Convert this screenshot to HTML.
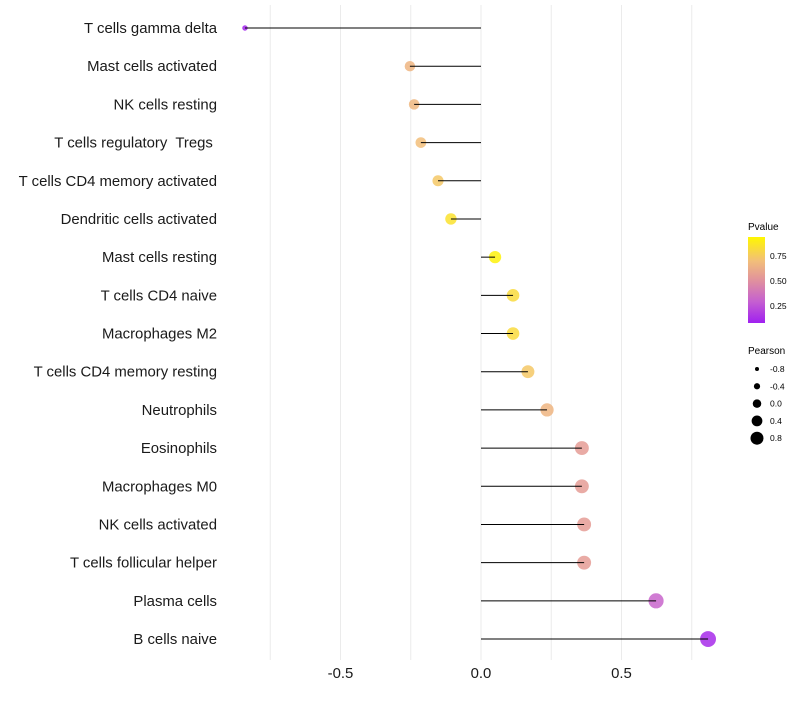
<!DOCTYPE html>
<html><head><meta charset="utf-8"><style>
body{margin:0;background:#fff;font-family:"Liberation Sans",sans-serif}
text{white-space:pre}
</style></head><body>
<svg id="chart" width="800" height="700" xmlns="http://www.w3.org/2000/svg">
<defs><linearGradient id="pg" x1="0" y1="1" x2="0" y2="0">
<stop offset="0" stop-color="#a020f0"/><stop offset="0.25" stop-color="#c560d0"/><stop offset="0.49" stop-color="#e0909e"/><stop offset="0.72" stop-color="#f2be7a"/><stop offset="1" stop-color="#fff700"/></linearGradient></defs>
<g id="grid"></g><g id="marks"></g><g id="ylabels"></g><g id="xlabels"></g>
<g>
<text x="748" y="230" font-size="10">Pvalue</text>
<rect x="748" y="237" width="17" height="86" fill="url(#pg)"/>
<text x="770" y="259" font-size="8.5">0.75</text>
<text x="770" y="284" font-size="8.5">0.50</text>
<text x="770" y="309" font-size="8.5">0.25</text>
</g>
<g id="sizeleg">
<text x="748" y="354" font-size="10">Pearson</text>
</g>
</svg>
<script>
const categories=["T cells gamma delta","Mast cells activated","NK cells resting","T cells regulatory  Tregs ","T cells CD4 memory activated","Dendritic cells activated","Mast cells resting","T cells CD4 naive","Macrophages M2","T cells CD4 memory resting","Neutrophils","Eosinophils","Macrophages M0","NK cells activated","T cells follicular helper","Plasma cells","B cells naive"];
const pearson=[-0.84,-0.253,-0.238,-0.214,-0.153,-0.107,0.05,0.114,0.114,0.167,0.235,0.359,0.359,0.367,0.367,0.623,0.808];
const pvalues=[0.1,0.66,0.67,0.7,0.74,0.85,0.92,0.82,0.82,0.74,0.66,0.55,0.55,0.55,0.55,0.32,0.12];
const xTicks=[-0.5,0,0.5];
const xTickLabels=["-0.5","0.0","0.5"];
const sizeLegend=[-0.8,-0.4,0.0,0.4,0.8];
const NS="http://www.w3.org/2000/svg";
const xs=v=>481+v*281;
const ys=i=>28+i*38.19;
const rs=v=>Math.sqrt(Math.max(1.6,36+34*v));
const rl=v=>2+((v+0.8)/1.6)*4.5;
const stops=[[0.08,[160,32,240]],[0.3,[197,96,208]],[0.5,[224,144,158]],[0.7,[242,190,122]],[0.94,[255,247,0]]];
function col(p){if(p<=stops[0][0])return "rgb("+stops[0][1]+")";for(let k=1;k<stops.length;k++){if(p<=stops[k][0]){const a=stops[k-1],b=stops[k],t=(p-a[0])/(b[0]-a[0]);return "rgb("+a[1].map((c,j)=>Math.round(c+(b[1][j]-c)*t))+")";}}return "rgb("+stops[4][1]+")";}
function mk(t,a,parent){const e=document.createElementNS(NS,t);for(const k in a)e.setAttribute(k,a[k]);document.getElementById(parent).appendChild(e);return e;}
[-0.75,-0.5,-0.25,0,0.25,0.5,0.75].forEach(v=>{const l=mk("line",{x1:xs(v),x2:xs(v),y1:5,y2:660,stroke:"#ebebeb","stroke-width":1},"grid");

});
categories.forEach((c,i)=>{
const d=mk("circle",{cx:xs(pearson[i]),cy:ys(i),r:rs(pearson[i]),fill:col(pvalues[i]),"fill-opacity":0.85},"marks");


const l=mk("line",{x1:xs(0),x2:xs(pearson[i]),y1:ys(i),y2:ys(i),stroke:"#000","stroke-width":1},"marks");


const t=mk("text",{x:217,y:ys(i)+5,"text-anchor":"end","font-size":14.9,fill:"#1a1a1a"},"ylabels");
t.textContent=c;


});
xTicks.forEach((v,i)=>{const t=mk("text",{x:xs(v),y:678,"text-anchor":"middle","font-size":14.9,fill:"#1a1a1a"},"xlabels");
t.textContent=xTickLabels[i];

});
sizeLegend.forEach((v,i)=>{const y=369+i*17.3;
const c=mk("circle",{cx:757,cy:y,r:rl(v)},"sizeleg");


const t=mk("text",{x:770,y:y+3,"font-size":8.5},"sizeleg");t.textContent=v.toFixed(1);

});
</script>
</body></html>
